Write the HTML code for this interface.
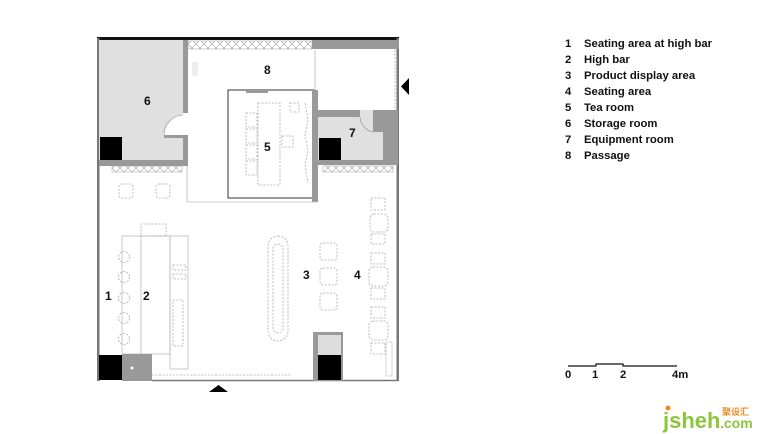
<!DOCTYPE html>
<html><head><meta charset="utf-8"><style>
html,body{margin:0;padding:0;background:#fff;width:760px;height:434px;overflow:hidden}
svg{display:block}
.t{font-family:"Liberation Sans",sans-serif;font-weight:bold;font-size:11.3px;fill:#111}
.n{font-family:"Liberation Sans",sans-serif;font-weight:bold;font-size:12px;fill:#111}
.d{fill:none;stroke:#aaa;stroke-width:0.8;stroke-dasharray:2,1.5}
</style></head><body>
<svg width="760" height="434" viewBox="0 0 760 434" xmlns="http://www.w3.org/2000/svg">
<defs>
<pattern id="h" width="8" height="8" patternUnits="userSpaceOnUse"><path d="M0 0L8 8M8 0L0 8" stroke="#999" stroke-width="0.6"/></pattern>
</defs>
<rect x="97" y="37" width="302" height="3" fill="#111"/>
<rect x="97" y="38" width="2.5" height="343" fill="#777"/>
<rect x="396.5" y="38" width="2.5" height="343" fill="#777"/>
<line x1="152" y1="380.5" x2="398" y2="380.5" stroke="#777" stroke-width="1.5"/>
<rect x="99" y="40" width="84" height="120" fill="#e0e0e0"/>
<rect x="183" y="40" width="5" height="73" fill="#999"/>
<rect x="164" y="135" width="24" height="3" fill="#999"/>
<rect x="183" y="135" width="5" height="27" fill="#999"/>
<rect x="99" y="160" width="89" height="6" fill="#999"/>
<path d="M164 135 A20 20 0 0 1 183 115 L183 135 Z" fill="#fff"/>
<path d="M164 135 A20 20 0 0 1 183 115" fill="none" stroke="#888" stroke-width="0.6"/>
<rect x="100" y="137" width="22" height="23" fill="#000"/>
<rect x="112" y="166" width="70" height="6" fill="url(#h)" stroke="#999" stroke-width="0.5"/>
<rect x="188" y="41" width="124" height="8" fill="url(#h)" stroke="#999" stroke-width="0.5"/>
<rect x="312" y="40" width="87" height="9" fill="#999"/>
<line x1="395" y1="50" x2="395" y2="110" class="d" stroke="#999"/>
<line x1="315" y1="50" x2="315" y2="90" stroke="#bbb" stroke-width="0.8"/>
<rect x="192" y="62" width="6" height="14" fill="#eee"/>
<rect x="228" y="90" width="86" height="108" fill="#fff" stroke="#333" stroke-width="1"/>
<rect x="312" y="90" width="6" height="112" fill="#999"/>
<rect x="246" y="113" width="11" height="14" class="d"/>
<rect x="246" y="129" width="11" height="14" class="d"/>
<rect x="246" y="145" width="11" height="14" class="d"/>
<rect x="246" y="161" width="11" height="14" class="d"/>
<rect x="258" y="103" width="22" height="82" class="d"/>
<rect x="290" y="103" width="9" height="9" class="d"/>
<rect x="282" y="136" width="11" height="11" class="d"/>
<path d="M305 103 L308 120 L305 135 L308 150 L305 165 L308 183" class="d"/>
<line x1="246" y1="92" x2="268" y2="92" stroke="#333" stroke-width="1"/>
<line x1="187" y1="202" x2="318" y2="202" stroke="#bbb" stroke-width="0.8"/>
<line x1="187" y1="166" x2="187" y2="202" stroke="#bbb" stroke-width="0.8"/>
<rect x="318" y="110" width="80" height="52" fill="#e0e0e0"/>
<rect x="318" y="110" width="42" height="7" fill="#999"/>
<rect x="373" y="110" width="25" height="7" fill="#999"/>
<rect x="373" y="110" width="10" height="22" fill="#999"/>
<rect x="383" y="110" width="15" height="55" fill="#999"/>
<path d="M373 132 A16 16 0 0 1 360 117" fill="none" stroke="#888" stroke-width="0.6"/>
<rect x="318" y="160" width="80" height="5" fill="#999"/>
<rect x="319" y="138" width="22" height="22" fill="#000"/>
<rect x="323" y="166" width="70" height="6" fill="url(#h)" stroke="#999" stroke-width="0.5"/>
<rect x="119" y="184" width="14" height="14" rx="3" class="d"/>
<rect x="156" y="184" width="14" height="14" rx="3" class="d"/>
<rect x="122" y="236" width="48" height="118" fill="none" stroke="#bbb" stroke-width="0.8"/>
<line x1="141" y1="236" x2="141" y2="354" stroke="#bbb" stroke-width="0.8"/>
<rect x="141" y="224" width="25" height="12" class="d"/>
<rect x="170" y="236" width="18" height="133" fill="none" stroke="#bbb" stroke-width="0.8"/>
<rect x="173" y="265" width="13" height="5" class="d"/>
<rect x="173" y="274" width="13" height="5" class="d"/>
<rect x="173" y="300" width="10" height="46" class="d"/>
<circle cx="124" cy="257" r="5.5" class="d"/>
<circle cx="124" cy="277" r="5.5" class="d"/>
<circle cx="124" cy="298" r="5.5" class="d"/>
<circle cx="124" cy="318" r="5.5" class="d"/>
<circle cx="124" cy="339" r="5.5" class="d"/>
<rect x="99" y="355" width="23" height="25" fill="#000"/>
<rect x="122" y="354" width="30" height="27" fill="#999"/>
<circle cx="132" cy="368" r="1.5" fill="#fff"/>
<line x1="152" y1="375" x2="291" y2="375" class="d"/>
<rect x="268" y="236" width="20" height="105" rx="10" class="d"/>
<rect x="273" y="244" width="10" height="89" rx="5" class="d"/>
<rect x="320" y="243" width="17" height="17" rx="3" class="d"/>
<rect x="320" y="268" width="17" height="17" rx="3" class="d"/>
<rect x="320" y="293" width="17" height="17" rx="3" class="d"/>
<rect x="371" y="198" width="14" height="12" class="d"/>
<rect x="370" y="214" width="18" height="18" rx="4" class="d"/>
<rect x="371" y="234" width="14" height="10" class="d"/>
<rect x="371" y="253" width="14" height="11" class="d"/>
<rect x="369" y="267" width="19" height="19" rx="4" class="d"/>
<rect x="371" y="288" width="14" height="11" class="d"/>
<rect x="371" y="307" width="14" height="11" class="d"/>
<rect x="369" y="321" width="19" height="19" rx="4" class="d"/>
<rect x="371" y="343" width="14" height="11" class="d"/>
<rect x="386" y="342" width="6" height="34" fill="none" stroke="#bbb" stroke-width="0.6"/>
<rect x="313" y="332" width="30" height="49" fill="#999"/>
<rect x="318" y="335" width="23" height="20" fill="#ddd"/>
<rect x="318" y="355" width="23" height="25" fill="#000"/>
<polygon points="401,86.5 409,78 409,95" fill="#000"/>
<polygon points="209,392 228,392 218.5,385" fill="#000"/>
<text class="n" x="264" y="74">8</text>
<text class="n" x="144" y="105">6</text>
<text class="n" x="349" y="137">7</text>
<text class="n" x="264" y="151">5</text>
<text class="n" x="303" y="279">3</text>
<text class="n" x="354" y="279">4</text>
<text class="n" x="105" y="300">1</text>
<text class="n" x="143" y="300">2</text>
<g class="t">
<text x="565" y="47">1</text><text x="584" y="47">Seating area at high bar</text>
<text x="565" y="63">2</text><text x="584" y="63">High bar</text>
<text x="565" y="79">3</text><text x="584" y="79">Product display area</text>
<text x="565" y="95">4</text><text x="584" y="95">Seating area</text>
<text x="565" y="111">5</text><text x="584" y="111">Tea room</text>
<text x="565" y="127">6</text><text x="584" y="127">Storage room</text>
<text x="565" y="143">7</text><text x="584" y="143">Equipment room</text>
<text x="565" y="159">8</text><text x="584" y="159">Passage</text>
</g>
<path d="M568 366 H596 V364 H623 V366 H677" fill="none" stroke="#111" stroke-width="1.2"/>
<g class="t"><text x="565" y="378">0</text><text x="592" y="378">1</text><text x="620" y="378">2</text><text x="672" y="378">4m</text></g>
<text x="663" y="428" font-family="Liberation Sans,sans-serif" font-weight="bold" font-size="22" fill="#8cc63f">jsheh</text>
<text x="720" y="428" font-family="Liberation Sans,sans-serif" font-weight="bold" font-size="14" fill="#8cc63f">.com</text>
<text x="722" y="415" font-family="'Noto Sans CJK SC',sans-serif" font-weight="bold" font-size="9" fill="#f08a24">聚设汇</text>
<circle cx="668" cy="408" r="2.5" fill="#f08a24"/>
</svg>
</body></html>
